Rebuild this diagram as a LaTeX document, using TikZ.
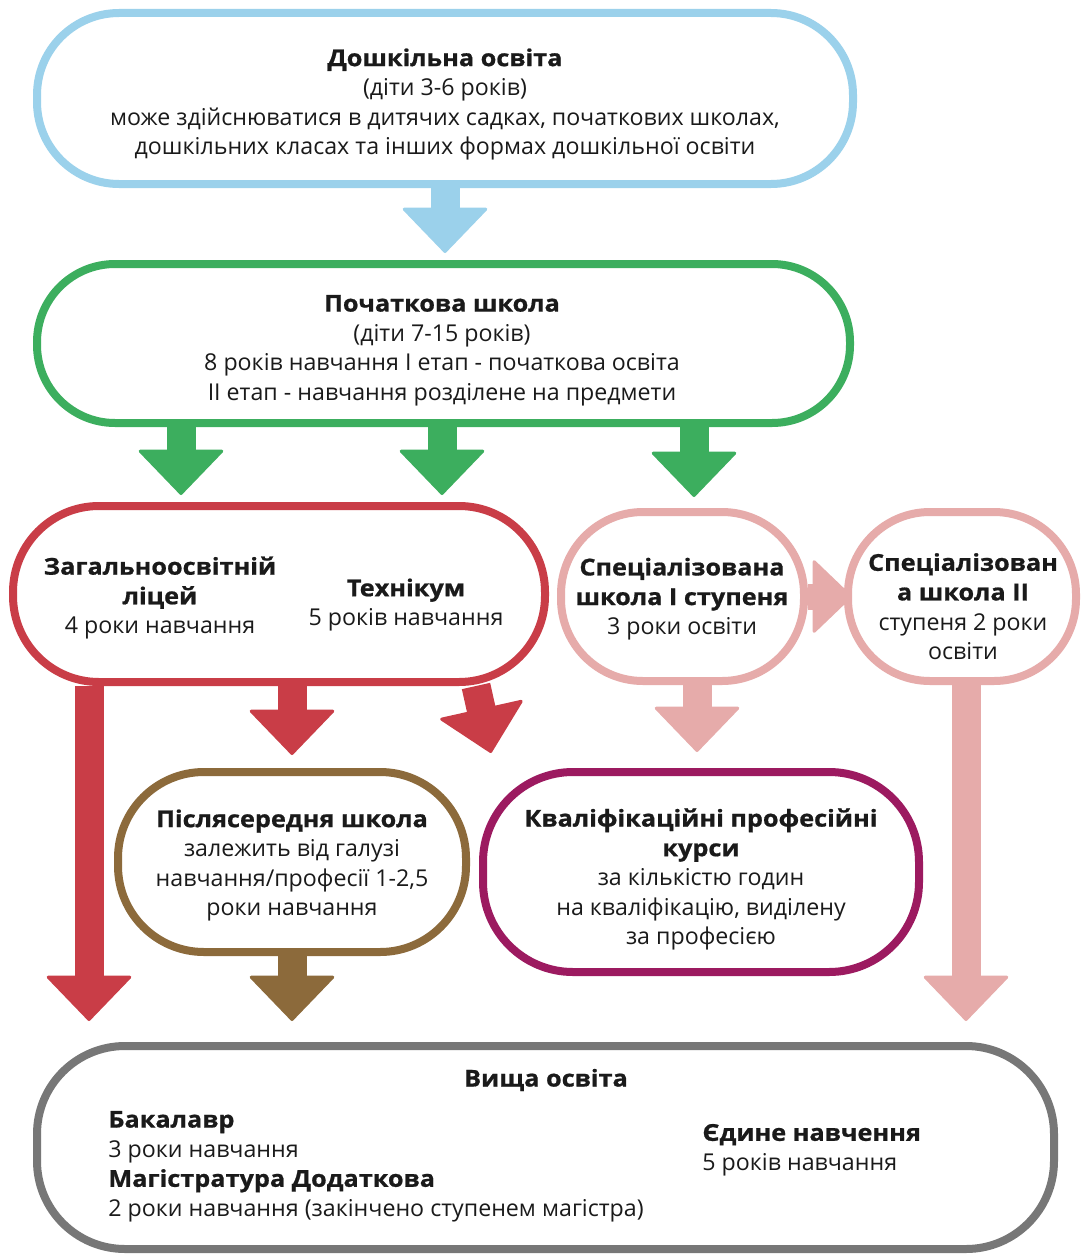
\documentclass[tikz,border=0pt]{standalone}
\usepackage{fontspec}
\setmainfont{Open Sans}[BoldFeatures={FakeStretch=1.09,FakeBold=0.8}]
\usetikzlibrary{arrows.meta,backgrounds}

\definecolor{cblue}{RGB}{155,209,235}
\definecolor{cgreen}{RGB}{60,174,94}
\definecolor{cred}{RGB}{201,61,71}
\definecolor{cpink}{RGB}{230,171,170}
\definecolor{cbrown}{RGB}{140,106,59}
\definecolor{cpurple}{RGB}{156,26,96}
\definecolor{cgray}{RGB}{119,119,119}
\definecolor{ctext}{RGB}{26,26,26}

\newcommand{\fsz}{\fontsize{23.2}{29.6}\selectfont}

\tikzset{every picture/.style={line width=0.75pt}}
\tikzset{
  stage/.style={draw=#1, line width=8pt, fill=white, inner sep=0pt},
  label/.style={align=center, inner sep=0pt, text=ctext, font=\fsz},
  blockarrow/.style={draw=#1, line width=29pt, -{Triangle[width=88pt,length=46pt,line width=3pt,round,color=#1]}},
}

\begin{document}
\begin{tikzpicture}[x=1pt,y=1pt,yscale=-1,xscale=1]
\useasboundingbox (0,0) rectangle (1082,1255);

%Shape: Preschool
\node [stage=cblue, rounded corners=82pt, minimum width=816pt, minimum height=171pt] (pre) at (445,98.5) {};
%Shape: Primary school
\node [stage=cgreen, rounded corners=78pt, minimum width=813pt, minimum height=159pt] (prim) at (443.5,343.5) {};
%Shape: Lyceum and technical school
\node [stage=cred, rounded corners=86pt, minimum width=532pt, minimum height=176pt] (lyc) at (279,594) {};
%Shape: Specialized school II
\node [stage=cpink, rounded corners=82pt, minimum width=228pt, minimum height=169pt] (spec2) at (962,596.5) {};
%Shape: Specialized school I
\node [stage=cpink, rounded corners=82pt, minimum width=243pt, minimum height=169pt] (spec1) at (682.5,596.5) {};
%Shape: Post-secondary school
\node [stage=cbrown, rounded corners=86pt, minimum width=348pt, minimum height=180pt] (post) at (292,862) {};
%Shape: Qualification courses
\node [stage=cpurple, rounded corners=90pt, minimum width=436pt, minimum height=200pt] (qual) at (701,872) {};
%Shape: Higher education
\node [stage=cgray, rounded corners=88pt, minimum width=1017pt, minimum height=203pt] (high) at (545.5,1147.5) {};

% Text Node
\node [label] (preT) at (445,104.5) {\textbf{Дошкільна освіта}\\(діти 3-6 років)\\може здійснюватися в дитячих садках, початкових школах,\\дошкільних класах та інших формах дошкільної освіти};
% Text Node
\node [label] (primT) at (442,350.5) {\textbf{Початкова школа}\\(діти 7-15 років)\\8 років навчання І етап - початкова освіта\\ІІ етап - навчання розділене на предмети};
% Text Node
\node [label] (lycT) at (160,598) {\textbf{Загальноосвітній}\\\textbf{ліцей}\\4 роки навчання};
% Text Node
\node [label] (techT) at (406,605) {\textbf{Технікум}\\5 років навчання};
% Text Node
\node [label] (spec1T) at (682,599) {\textbf{Спеціалізована}\\\textbf{школа І ступеня}\\3 роки освіти};
% Text Node
\node [label] (spec2T) at (963,606.5) {\textbf{Спеціалізован}\\\textbf{а школа ІІ}\\ступеня 2 роки\\освіти};
% Text Node
\node [label] (postT) at (292,865.5) {\textbf{Післясередня школа}\\залежить від галузі\\навчання/професії 1-2,5\\роки навчання};
% Text Node
\node [label] (qualT) at (701,879.5) {\textbf{Кваліфікаційні професійні}\\\textbf{курси}\\за кількістю годин\\на кваліфікацію, виділену\\за професією};
% Text Node
\node [label] (highT) at (546,1080) {\textbf{Вища освіта}};
% Text Node
\node [label, align=left, anchor=west] (bach) at (108,1166.5) {\textbf{Бакалавр}\\3 роки навчання\\\textbf{Магістратура Додаткова}\\2 роки навчання (закінчено ступенем магістра)};
% Text Node
\node [label, align=left, anchor=west] (single) at (702,1150) {\textbf{Єдине навчення}\\5 років навчання};

% arrow columns
\coordinate (b1) at (445,0);
\coordinate (g1) at (181,0);
\coordinate (g2) at (442,0);
\coordinate (g3) at (694,0);
\coordinate (r1) at (89,0);
\coordinate (r2) at (292,0);
\coordinate (r3) at (476,0);
\coordinate (tiltEnd) at (491,753);
\coordinate (p1) at (697,0);
\coordinate (p2) at (966,0);

\begin{scope}[on background layer]
%Block arrows
\draw [blockarrow=cblue, shorten >=7pt] (pre.south -| b1) -- (prim.north -| b1);
\draw [blockarrow=cgreen, shorten >=7pt] (prim.south -| g1) -- (lyc.north -| g1);
\draw [blockarrow=cgreen, shorten >=7pt] (prim.south -| g2) -- (lyc.north -| g2);
\draw [blockarrow=cgreen, shorten >=11pt] (prim.south -| g3) -- (spec1.north -| g3);
\draw [blockarrow=cred, shorten >=21pt] (lyc.south -| r1) -- (high.north -| r1);
\draw [blockarrow=cred, shorten >=13pt] (lyc.south -| r2) -- (post.north -| r2);
\draw [blockarrow=cred] (lyc.south -| r3) -- (tiltEnd);
\draw [blockarrow=cpink, line width=26pt, -{Triangle[width=76pt,length=40pt,line width=3pt,round,color=cpink]}] (spec1.east) -- ([xshift=8pt]spec2.west);
\draw [blockarrow=cpink, shorten >=16pt] (spec1.south -| p1) -- (qual.north -| p1);
\draw [blockarrow=cpink, shorten >=21pt] (spec2.south -| p2) -- (high.north -| p2);
\draw [blockarrow=cbrown, shorten >=21pt] (post.south) -- (high.north -| post.south);
\end{scope}

\end{tikzpicture}
\end{document}
